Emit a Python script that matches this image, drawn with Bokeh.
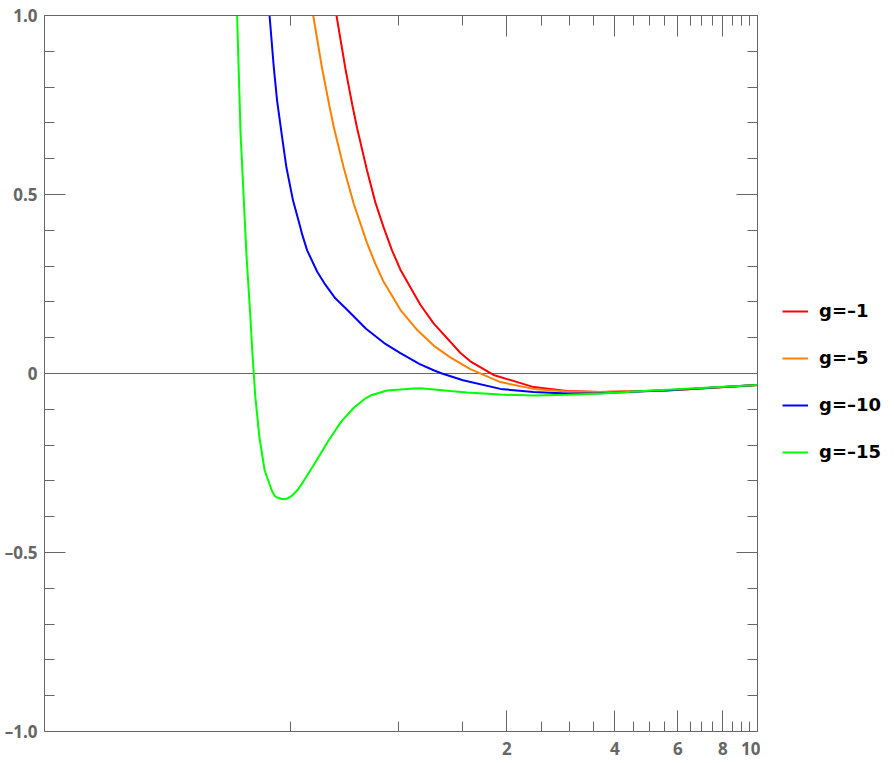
from bokeh.plotting import figure
from bokeh.layouts import row
from bokeh.models import (Range1d, FixedTicker, LogAxis, LinearAxis, Span,
                          Legend, LegendItem, CustomJSTickFormatter)
from bokeh.embed import file_html
from bokeh.resources import INLINE

# ---- data (x on a log scale) ----
x_red = [0.63, 0.670, 0.710, 0.741, 0.765, 0.815, 0.860, 0.907, 0.957, 1.01,
         1.148, 1.25, 1.483, 1.582, 1.837, 2.376, 2.943, 3.644, 5.59, 10.0]
y_red = [1.15, 1.00, 0.85, 0.752, 0.685, 0.568, 0.478, 0.408, 0.344, 0.29,
         0.192, 0.14, 0.058, 0.034, -0.004, -0.038, -0.049, -0.052, -0.0475, -0.032]

x_orange = [0.545, 0.577, 0.611, 0.641, 0.658, 0.702, 0.748, 0.815, 0.860, 0.907,
            1.01, 1.124, 1.25, 1.391, 1.582, 1.919, 2.376, 2.943, 3.644, 5.59, 10.0]
y_orange = [1.145, 1.00, 0.852, 0.745, 0.69, 0.575, 0.475, 0.365, 0.306, 0.256,
            0.178, 0.122, 0.078, 0.045, 0.012, -0.024, -0.043, -0.050, -0.052, -0.0475, -0.032]

x_blue = [0.425, 0.436, 0.448, 0.4575, 0.4726, 0.4858, 0.507, 0.531, 0.537, 0.555,
          0.5916, 0.6237, 0.665, 0.7094, 0.748, 0.81, 0.91, 1.01, 1.14, 1.25,
          1.319, 1.51, 1.919, 2.376, 2.943, 3.644, 5.59, 10.0]
y_blue = [1.14, 1.00, 0.856, 0.763, 0.66, 0.576, 0.483, 0.409, 0.39, 0.344,
          0.285, 0.248, 0.210, 0.183, 0.160, 0.125, 0.085, 0.057, 0.027, 0.009,
          0.0, -0.019, -0.043, -0.052, -0.056, -0.055, -0.047, -0.032]

x_green = [0.350, 0.354, 0.362, 0.376, 0.3856, 0.3898, 0.394, 0.398, 0.4085, 0.4226,
           0.4432, 0.4526, 0.4624, 0.4756, 0.4898, 0.5039, 0.5203, 0.540, 0.5852, 0.637,
           0.69, 0.75, 0.806, 0.833, 0.927, 1.01, 1.10, 1.148, 1.391, 1.549,
           1.919, 2.376, 2.943, 3.644, 5.59, 10.0]
y_green = [1.16, 1.00, 0.670, 0.33, 0.157, 0.07, 0.0, -0.066, -0.178, -0.271,
           -0.329, -0.344, -0.348, -0.351, -0.349, -0.341, -0.327, -0.304, -0.248, -0.187,
           -0.135, -0.095, -0.070, -0.0615, -0.0475, -0.045, -0.042, -0.041, -0.049, -0.053,
           -0.059, -0.0615, -0.0595, -0.056, -0.0455, -0.032]

series_labels = ["g=–1", "g=–5", "g=–10", "g=–15"]
series_colors = ["#FF0000", "#FF8000", "#0000FF", "#00FF00"]

x_major = [2, 4, 6, 8, 10]
x_minor = [0.5, 1, 1.5, 2.5, 3, 3.5, 4.5, 5, 5.5, 6.5, 7, 7.5, 8.5, 9, 9.5]
x_tick_labels = {2: "2", 4: "4", 6: "6", 8: "8", 10: "10"}

y_major = [-1, -0.5, 0, 0.5, 1]
y_minor = [-0.9, -0.8, -0.7, -0.6, -0.4, -0.3, -0.2, -0.1,
           0.1, 0.2, 0.3, 0.4, 0.6, 0.7, 0.8, 0.9]
y_tick_labels = {-1: "–1.0", -0.5: "–0.5", 0: "0", 0.5: "0.5", 1: "1.0"}

GRAY = "#666666"
FIG_H = 760

p = figure(width=760, height=FIG_H, x_axis_type="log",
           x_range=Range1d(0.1028, 10), y_range=Range1d(-1, 1),
           output_backend="svg", toolbar_location=None,
           min_border_left=44, min_border_right=3,
           min_border_top=15, min_border_bottom=29)
p.outline_line_color = None
p.grid.visible = False
p.background_fill_color = "white"


def style_axis(ax, labels):
    ax.axis_line_color = GRAY
    ax.axis_line_width = 1
    ax.major_tick_line_color = GRAY
    ax.minor_tick_line_color = GRAY
    ax.major_tick_in = 21
    ax.major_tick_out = 0
    ax.minor_tick_in = 10
    ax.minor_tick_out = 0
    if labels:
        ax.major_label_text_font = "Open Sans"
        ax.major_label_text_font_style = "bold"
        ax.major_label_text_font_size = "17px"
        ax.major_label_text_color = GRAY
    else:
        ax.formatter = CustomJSTickFormatter(code="return ''")
        ax.major_label_text_font_size = "0px"
        ax.major_label_standoff = 0


xb = p.xaxis[0]
xb.ticker = FixedTicker(ticks=x_major, minor_ticks=x_minor)
xb.major_label_overrides = x_tick_labels
style_axis(xb, True)
xb.major_label_standoff = 10

yl = p.yaxis[0]
yl.ticker = FixedTicker(ticks=y_major, minor_ticks=y_minor)
yl.major_label_overrides = y_tick_labels
style_axis(yl, True)
yl.major_label_standoff = 7

xt = LogAxis(ticker=FixedTicker(ticks=x_major, minor_ticks=x_minor))
style_axis(xt, False)
p.add_layout(xt, "above")

yr = LinearAxis(ticker=FixedTicker(ticks=y_major, minor_ticks=y_minor))
style_axis(yr, False)
p.add_layout(yr, "right")

p.add_layout(Span(location=0, dimension="width", line_color=GRAY,
                  line_width=1, level="underlay"))

xs = [x_red, x_orange, x_blue, x_green]
ys = [y_red, y_orange, y_blue, y_green]
for xv, yv, c in zip(xs, ys, series_colors):
    p.line(xv, yv, line_color=c, line_width=2)

# ---- legend panel (a second, axis-less figure to the right) ----
# its ranges lie far away from the data, so only the legend glyphs show
lf = figure(width=126, height=FIG_H, output_backend="svg", toolbar_location=None,
            x_range=Range1d(100, 101), y_range=Range1d(100, 101),
            min_border_left=0, min_border_right=0, min_border_top=0, min_border_bottom=0)
lf.axis.visible = False
lf.grid.visible = False
lf.outline_line_color = None
items = []
for lab, xv, yv, c in zip(series_labels, xs, ys, series_colors):
    r = lf.line(xv, yv, line_color=c, line_width=2)
    items.append(LegendItem(label=lab, renderers=[r]))

legend = Legend(
    items=items, location=(22, FIG_H - 491), orientation="vertical",
    border_line_color=None, background_fill_alpha=0,
    padding=0, margin=0, spacing=26,
    glyph_width=26, glyph_height=20, label_height=20, label_standoff=11,
    label_text_font="DejaVu Sans", label_text_font_style="bold",
    label_text_font_size="18px", label_text_color="black",
    label_text_baseline="middle",
)
lf.add_layout(legend, "center")

layout = row(p, lf, spacing=0)
open("out.html", "w").write(file_html(layout, INLINE))
